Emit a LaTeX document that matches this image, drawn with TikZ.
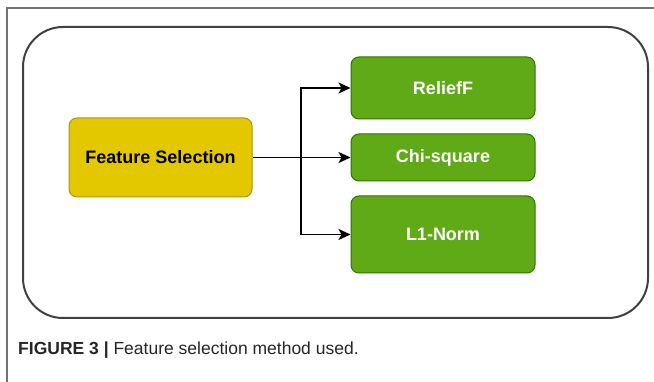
\documentclass[tikz,border=0pt]{standalone}
\usepackage{fontspec}
\setsansfont{Liberation Sans}
\usepackage{xcolor}
\usepackage{tikz}
\usetikzlibrary{positioning,arrows.meta}

\definecolor{fsyellow}{HTML}{E3C800}
\definecolor{fsyellowline}{HTML}{B09500}
\definecolor{mgreen}{HTML}{60A917}
\definecolor{mgreenline}{HTML}{2D7600}

\begin{document}
\begin{tikzpicture}[
					x=1pt, y=-1pt,
					panel/.style={draw=black!75, line width=2pt, rounded corners=40pt, minimum width=625pt, minimum height=291pt},
					selbox/.style={draw=fsyellowline, fill=fsyellow, rounded corners=8pt, line width=1pt, font=\sffamily\bfseries\fontsize{18}{22}\selectfont, text=black},
					method/.style={draw=mgreenline, fill=mgreen, rounded corners=8pt, line width=1pt, minimum width=184pt, font=\sffamily\bfseries\fontsize{18}{22}\selectfont, text=white},
					arrow/.style={-{Stealth[length=12pt,width=11pt,inset=3pt]}, line width=1.6pt, black},
					captext/.style={font=\sffamily\fontsize{17.5}{21}\selectfont, text=black!85, anchor=base west, inner sep=0pt}
					]
					\useasboundingbox (0,0) rectangle (654,382);
					
					% ===== FIGURE FRAME =====
					\draw[black!55, line width=1.2pt] (7,382) -- (7,8) -- (654,8);
					\node[panel] (P) at (335.5,172.5) {};
					
					% ===== FEATURE SELECTION =====
					\node[selbox, minimum width=183pt, minimum height=79pt] (FS) at (160.5,157.5) {Feature Selection};
					
					% ===== METHODS =====
					\node[method, minimum height=62pt] (RF) at (443,88) {ReliefF};
					\node[method, minimum height=47pt] (CS) at (443,157.5) {Chi-square};
					\node[method, minimum height=77pt] (L1) at (443,234.5) {L1-Norm};
					
					% ===== ARROWS =====
					\coordinate (split) at (301,157.5);
					\draw[line width=1.6pt] (FS) -- (split);
					\draw[arrow] (split) |- (RF);
					\draw[arrow] (split) -- (CS);
					\draw[arrow] (split) |- (L1);
					
					% ===== CAPTION =====
					\node[captext] (cap) at (18,355) {\textbf{FIGURE 3 |} Feature selection method used.};
				\end{tikzpicture}
\end{document}
